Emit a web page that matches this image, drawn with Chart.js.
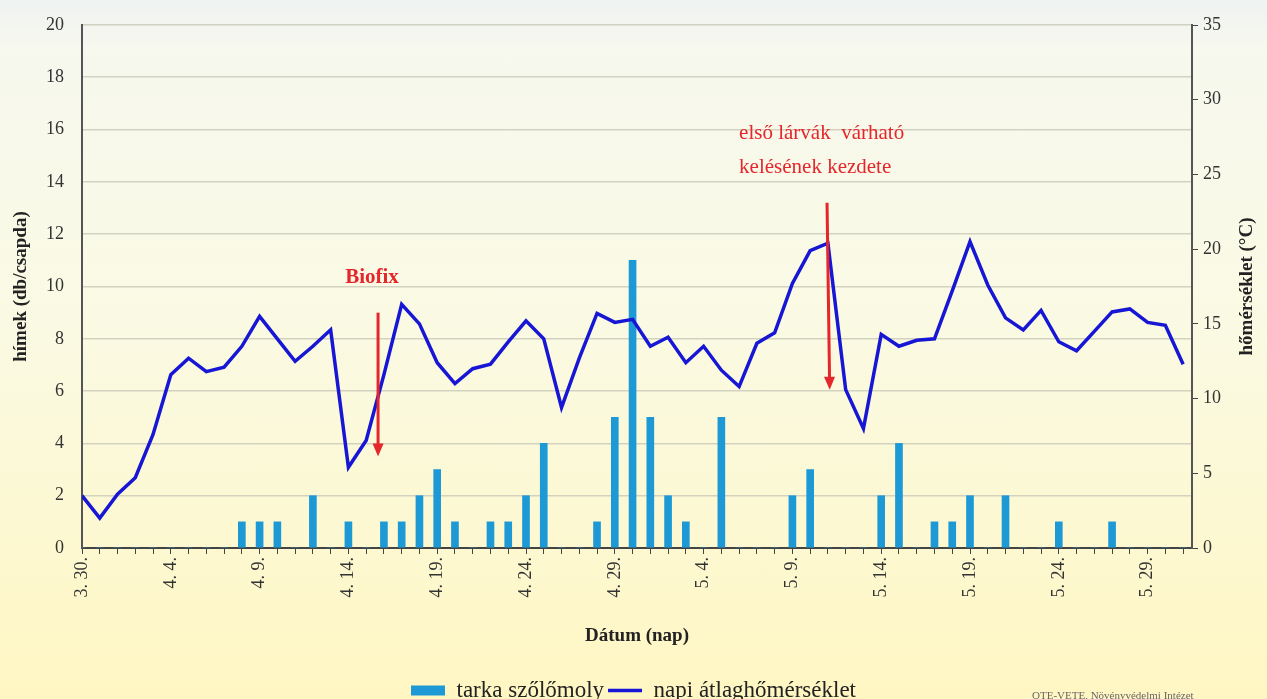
<!DOCTYPE html>
<html lang="hu">
<head>
<meta charset="utf-8">
<title>tarka szőlőmoly</title>
<script src="https://cdn.jsdelivr.net/npm/chart.js@4.4.0/dist/chart.umd.min.js"></script>
<style>
  html, body { margin: 0; padding: 0; }
  body {
    width: 1267px; height: 699px; overflow: hidden; position: relative;
    background: linear-gradient(to bottom, #eef2f1 0%, #f7f8ee 7%, #fafae4 45%, #fdf8cf 80%, #fff6c2 100%);
    font-family: "Liberation Serif", serif;
  }
  #wrap { position: absolute; left: 0; top: 0; width: 1267px; height: 699px; }
  .source { position: absolute; left: 1032px; top: 689px; font-size: 11px; color: #666; white-space: nowrap; }
</style>
</head>
<body>
<div id="wrap"><canvas id="chart" width="1267" height="699"></canvas></div>
<div class="source">OTE-VETE, Növényvédelmi Intézet</div>
<script>
// dates (month. day.)
var dates = [
  '3. 30.', '3. 31.',
  '4. 1.', '4. 2.', '4. 3.', '4. 4.', '4. 5.', '4. 6.', '4. 7.', '4. 8.', '4. 9.', '4. 10.',
  '4. 11.', '4. 12.', '4. 13.', '4. 14.', '4. 15.', '4. 16.', '4. 17.', '4. 18.', '4. 19.', '4. 20.',
  '4. 21.', '4. 22.', '4. 23.', '4. 24.', '4. 25.', '4. 26.', '4. 27.', '4. 28.', '4. 29.', '4. 30.',
  '5. 1.', '5. 2.', '5. 3.', '5. 4.', '5. 5.', '5. 6.', '5. 7.', '5. 8.', '5. 9.', '5. 10.',
  '5. 11.', '5. 12.', '5. 13.', '5. 14.', '5. 15.', '5. 16.', '5. 17.', '5. 18.', '5. 19.', '5. 20.',
  '5. 21.', '5. 22.', '5. 23.', '5. 24.', '5. 25.', '5. 26.', '5. 27.', '5. 28.', '5. 29.', '5. 30.', '5. 31.'
];

// males caught per trap
var trapCounts = [
  0, 0, 0, 0, 0, 0, 0, 0, 0, 1, 1, 1, 0, 2, 0, 1, 0, 1, 1, 2, 3,
  1, 0, 1, 1, 2, 4, 0, 0, 1, 5, 11, 5, 2, 1, 0, 5, 0, 0, 0, 2,
  3, 0, 0, 0, 2, 4, 0, 1, 1, 2, 0, 2, 0, 0, 1, 0, 0, 1, 0, 0, 0, 0
];

// daily mean temperature (°C)
var meanTemp = [
  3.5, 2.0, 3.6, 4.7, 7.6, 11.6, 12.7, 11.8, 12.1, 13.5, 15.5,
  14.0, 12.5, 13.5, 14.6, 5.4, 7.2, 11.6, 16.3, 15.0, 12.4,
  11.0, 12.0, 12.3, 13.8, 15.2, 14.0, 9.4, 12.7, 15.7, 15.1,
  15.3, 13.5, 14.1, 12.4, 13.5, 11.9, 10.8, 13.7, 14.4, 17.7,
  19.9, 20.4, 10.6, 8.0, 14.3, 13.5, 13.9, 14.0, 17.2, 20.5,
  17.6, 15.4, 14.6, 15.9, 13.8, 13.2, 14.5, 15.8, 16.0, 15.1,
  14.9, 12.3
];

var seriesNames = ['tarka szőlőmoly', 'napi átlaghőmérséklet'];
var axisTitles = ['hímek (db/csapda)', 'hőmérséklet (°C)', 'Dátum (nap)'];

var serif = '"Liberation Serif", "Times New Roman", serif';
var red = '#e5262b';

function drawArrow(ctx, x1, y1, x2, y2) {
  var ang = Math.atan2(y2 - y1, x2 - x1);
  ctx.save();
  ctx.strokeStyle = red;
  ctx.fillStyle = red;
  ctx.lineWidth = 3;
  ctx.beginPath();
  ctx.moveTo(x1, y1);
  ctx.lineTo(x2 - 10 * Math.cos(ang), y2 - 10 * Math.sin(ang));
  ctx.stroke();
  ctx.translate(x2, y2);
  ctx.rotate(ang);
  ctx.beginPath();
  ctx.moveTo(0, 0);
  ctx.lineTo(-13, -5.5);
  ctx.lineTo(-13, 5.5);
  ctx.closePath();
  ctx.fill();
  ctx.restore();
}

var notesPlugin = {
  id: 'notes',
  afterDatasetsDraw: function(chart) {
    var ctx = chart.ctx;
    var xs = chart.scales.x, ys = chart.scales.y;
    // Biofix
    drawArrow(ctx, xs.getPixelForValue(16.67), ys.getPixelForValue(9.0),
                   xs.getPixelForValue(16.67), ys.getPixelForValue(3.5));
    // expected first hatching
    drawArrow(ctx, xs.getPixelForValue(41.95), ys.getPixelForValue(13.2),
                   xs.getPixelForValue(42.1), ys.getPixelForValue(6.05));
    ctx.save();
    ctx.fillStyle = red;
    ctx.textBaseline = 'middle';
    ctx.textAlign = 'center';
    ctx.font = 'bold 21px ' + serif;
    ctx.fillText('Biofix', xs.getPixelForValue(16.33), ys.getPixelForValue(10.35));
    ctx.textAlign = 'left';
    ctx.font = '21px ' + serif;
    ctx.fillText('első lárvák  várható', xs.getPixelForValue(37.0), ys.getPixelForValue(15.85));
    ctx.fillText('kelésének kezdete', xs.getPixelForValue(37.0), ys.getPixelForValue(14.55));
    ctx.restore();
  },
  afterDraw: function(chart) {
    // right axis title, reading bottom to top
    var ctx = chart.ctx, a = chart.chartArea;
    ctx.save();
    ctx.translate(chart.scales.y2.right - 20, (a.top + a.bottom) / 2);
    ctx.rotate(-Math.PI / 2);
    ctx.textAlign = 'center';
    ctx.textBaseline = 'middle';
    ctx.fillStyle = '#222';
    ctx.font = 'bold 19px ' + serif;
    ctx.fillText(axisTitles[1], 0, 0);
    ctx.restore();
  }
};

function fixWidth(w) {
  return function(scale) {
    scale.width = w;
    scale.paddingTop = 10;
    scale.paddingBottom = 10;
  };
}

var ctx = document.getElementById('chart').getContext('2d');
var chart = new Chart(ctx, {
  type: 'bar',
  data: {
    datasets: [{
      type: 'bar',
      label: seriesNames[0],
      data: trapCounts.map(function(v, i) { return { x: i, y: v }; }),
      backgroundColor: '#1d9ad6',
      borderWidth: 0,
      barThickness: 7,
      yAxisID: 'y',
      order: 2,
      pointStyle: 'rect'
    }, {
      type: 'line',
      label: seriesNames[1],
      data: meanTemp.map(function(v, i) { return { x: i, y: v }; }),
      borderColor: '#1616d4',
      backgroundColor: '#1616d4',
      borderWidth: 3.5,
      pointRadius: 0,
      tension: 0,
      yAxisID: 'y2',
      order: 1,
      pointStyle: 'line'
    }]
  },
  options: {
    responsive: false,
    animation: false,
    devicePixelRatio: 1,
    layout: { padding: { top: 25, left: 0, right: 0, bottom: -13 } },
    plugins: {
      tooltip: { enabled: false },
      legend: {
        position: 'bottom',
        labels: {
          usePointStyle: true,
          pointStyleWidth: 34,
          boxHeight: 10,
          padding: 4,
          color: '#222',
          font: { family: serif, size: 23 },
          sort: function(a, b) { return a.datasetIndex - b.datasetIndex; }
        }
      }
    },
    scales: {
      x: {
        type: 'linear',
        min: 0,
        max: 62.5,
        offset: false,
        grid: { drawOnChartArea: false, drawTicks: true, tickLength: 6, color: '#444', offset: false },
        border: { color: '#444', width: 2 },
        ticks: {
          stepSize: 1,
          autoSkip: false,
          includeBounds: false,
          minRotation: 90,
          maxRotation: 90,
          padding: 3,
          color: '#333',
          font: { family: serif, size: 18 },
          callback: function(v) { return (v % 5 === 0 && dates[v]) ? dates[v] : ''; }
        },
        title: {
          display: true,
          text: axisTitles[2],
          color: '#222',
          font: { family: serif, size: 19, weight: 'bold' },
          padding: { top: 0, bottom: 28 }
        },
        afterFit: function(scale) { scale.height = 127; }
      },
      y: {
        position: 'left',
        min: 0,
        max: 20,
        ticks: { stepSize: 2, padding: 18, color: '#333', font: { family: serif, size: 18 } },
        grid: { color: 'rgba(205,205,188,0.9)', lineWidth: 1.6, drawTicks: false },
        border: { color: '#555', width: 2 },
        title: {
          display: true,
          text: axisTitles[0],
          color: '#222',
          font: { family: serif, size: 19, weight: 'bold' },
          padding: { top: 10, bottom: 0 }
        },
        afterFit: fixWidth(82)
      },
      y2: {
        position: 'right',
        min: 0,
        max: 35,
        ticks: { stepSize: 5, padding: 5, color: '#333', font: { family: serif, size: 18 } },
        grid: { drawOnChartArea: false, tickLength: 6, color: '#444' },
        border: { color: '#555', width: 2 },
        afterFit: fixWidth(75)
      }
    }
  },
  plugins: [notesPlugin]
});
</script>
</body>
</html>
